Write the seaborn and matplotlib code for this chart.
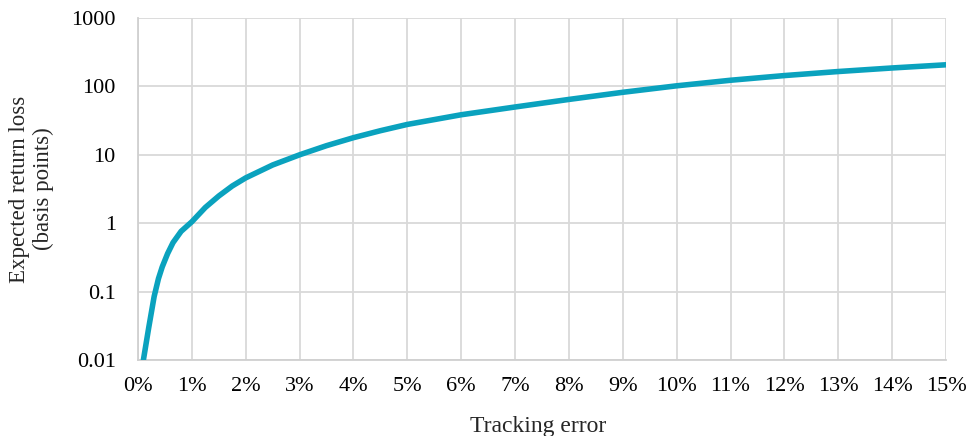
import matplotlib
matplotlib.use("Agg")
import matplotlib.pyplot as plt
import seaborn as sns
import pandas as pd
from matplotlib.ticker import FixedLocator

# Data (tracking error in %, expected return loss in bp)
tracking_error = [0.1, 0.2, 0.3, 0.38, 0.45, 0.55, 0.65, 0.8, 1.0, 1.25, 1.5, 1.75, 2.0,
                  2.5, 3.0, 3.5, 4.0, 4.5, 5.0, 6.0, 7.0, 8.0, 9.0, 10.0, 11.0, 12.0,
                  13.0, 14.0, 15.0]
return_loss = [0.01, 0.03, 0.085, 0.155, 0.23, 0.36, 0.52, 0.76, 1.05, 1.7, 2.5, 3.5,
               4.6, 7.1, 10.0, 13.6, 17.8, 22.5, 27.8, 38.5, 50.0, 64.5, 82.0, 102.0,
               123.0, 144.0, 165.0, 186.0, 207.0]
x_ticks = list(range(0, 16))
x_tick_labels = [f"{t}%" for t in x_ticks]
y_ticks = [0.01, 0.1, 1, 10, 100, 1000]
y_tick_labels = ["0.01", "0.1", "1", "10", "100", "1000"]

sns.set_theme(style="white")
plt.rcParams["font.family"] = ["Liberation Serif", "DejaVu Serif"]

df = pd.DataFrame({"te": tracking_error, "loss": return_loss})

fig = plt.figure(figsize=(9.69, 4.36), dpi=100)
ax = fig.add_axes([138 / 969, 1 - 360 / 436, (946 - 138) / 969, (360 - 18) / 436])

sns.lineplot(data=df, x="te", y="loss", ax=ax, color="#0AA2BE", linewidth=4,
             solid_capstyle="round", solid_joinstyle="round", zorder=3)

ax.set_yscale("log")
ax.set_xlim(0, 15)
ax.set_ylim(0.01, 1000)
ax.xaxis.set_major_locator(FixedLocator(x_ticks))
ax.set_xticklabels(x_tick_labels)
ax.yaxis.set_major_locator(FixedLocator(y_ticks))
ax.yaxis.set_minor_locator(FixedLocator([]))
ax.set_yticklabels(y_tick_labels)

ax.grid(True, which="major", color="#D9D9D9", linewidth=1.3)
ax.set_axisbelow(True)
for side in ["top", "right"]:
    ax.spines[side].set_visible(False)
for side in ["left", "bottom"]:
    ax.spines[side].set_color("#D0D0D0")
    ax.spines[side].set_linewidth(1.3)

ax.tick_params(axis="both", which="both", length=0, labelsize=16, colors="black")
ax.tick_params(axis="y", pad=16)
ax.tick_params(axis="x", pad=12)

ax.set_xlabel("Tracking error", fontsize=17, va="center", ha="center")
ax.xaxis.set_label_coords(0.495, -0.193)
ax.set_ylabel("Expected return loss\n(basis points)", fontsize=16.5,
              va="center", ha="center", linespacing=1.2)
ax.yaxis.set_label_coords(-0.132, 0.5)

fig.savefig("out.png", dpi=100)
